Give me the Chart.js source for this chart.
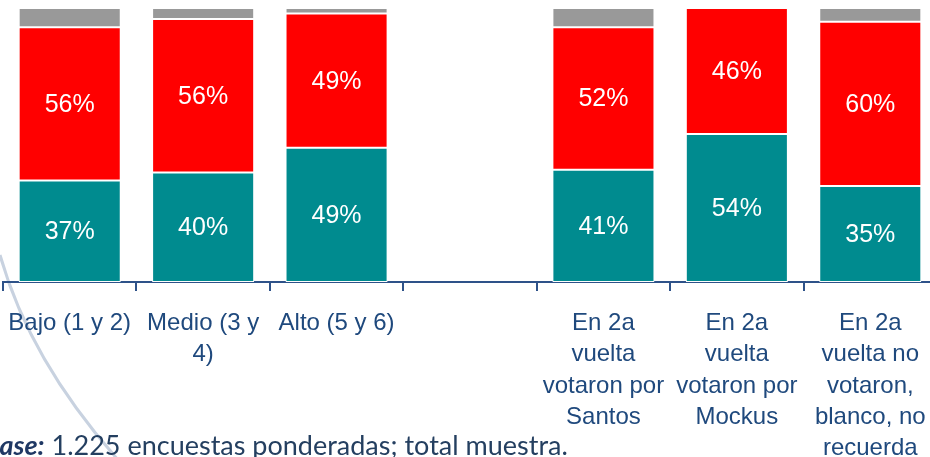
<!DOCTYPE html>
<html>
<head>
<meta charset="utf-8">
<script src="https://cdn.jsdelivr.net/npm/chart.js@4.4.1/dist/chart.umd.min.js"></script>
<style>
  html, body { margin: 0; padding: 0; background: #fff; overflow: hidden; }
  #wrap { position: relative; width: 930px; height: 457px; overflow: hidden; }
  #arc { position: absolute; left: 0; top: 0; }
  #box { position: absolute; left: 0; top: 0; width: 940px; height: 457px; }
  #foot {
    position: absolute; top: 431px; left: -17px; white-space: nowrap;
    font-family: Lato, "Open Sans", sans-serif; font-size: 27px; line-height: 27px;
    color: #243f60;
  }
  #foot b { font-style: italic; color: #1f3864; }
</style>
</head>
<body>
<div id="wrap">
  <svg id="arc" width="930" height="457">
    <path d="M0 255 Q30 361.5 120 462" fill="none" stroke="#c8d2e0" stroke-width="3"/>
  </svg>
  <div id="box"><canvas id="myChart" width="940" height="457"></canvas></div>
  <div id="foot"><b>Base:</b> 1.225 encuestas ponderadas; total muestra.</div>
</div>
<script>
const categories = [
  'Bajo (1 y 2)',
  ['Medio (3 y', '4)'],
  'Alto (5 y 6)',
  '',
  ['En 2a', 'vuelta', 'votaron por', 'Santos'],
  ['En 2a', 'vuelta', 'votaron por', 'Mockus'],
  ['En 2a', 'vuelta no', 'votaron,', 'blanco, no', 'recuerda']
];
const tealValues = [37, 40, 49, null, 41, 54, 35];
const redValues = [56, 56, 49, null, 52, 46, 60];
const grayValues = [7, 4, 2, null, 7, 0, 5];

const fontFam = 'Arial, "Liberation Sans", sans-serif';

// white % labels in the middle of the teal and red pieces
const segLabels = {
  id: 'segLabels',
  afterDatasetsDraw(chart) {
    const ctx = chart.ctx;
    ctx.save();
    ctx.fillStyle = '#ffffff';
    ctx.font = '25px ' + fontFam;
    ctx.textAlign = 'center';
    ctx.textBaseline = 'middle';
    [0, 1].forEach(function (d) {
      const meta = chart.getDatasetMeta(d);
      const vals = chart.data.datasets[d].data;
      meta.data.forEach(function (bar, i) {
        if (vals[i] === null || !vals[i]) return;
        ctx.fillText(vals[i] + '%', bar.x, (bar.y + bar.base) / 2 + 1);
      });
    });
    ctx.restore();
  }
};

const common = { borderColor: '#ffffff', borderWidth: 1, borderSkipped: false, barPercentage: 0.765, categoryPercentage: 1 };

new Chart(document.getElementById('myChart').getContext('2d'), {
  type: 'bar',
  data: {
    labels: categories,
    datasets: [
      Object.assign({ label: 'teal', data: tealValues, backgroundColor: '#008b8f' }, common),
      Object.assign({ label: 'red', data: redValues, backgroundColor: '#ff0000' }, common),
      Object.assign({ label: 'gray', data: grayValues, backgroundColor: '#999999' }, common)
    ]
  },
  options: {
    responsive: false,
    animation: false,
    layout: { padding: { left: 3, right: 3, top: 8, bottom: 0 } },
    plugins: {
      legend: { display: false },
      tooltip: { enabled: false }
    },
    scales: {
      x: {
        stacked: true,
        afterFit: function (scale) {
          scale.height = 175;
          scale.paddingLeft = 0;
          scale.paddingRight = 0;
        },
        border: { display: true, color: '#2e5289', width: 2 },
        grid: { display: true, drawOnChartArea: false, drawTicks: true, tickLength: 9, color: '#2e5289', lineWidth: 2, offset: true },
        ticks: {
          color: '#1f497d',
          padding: 17,
          autoSkip: false,
          maxRotation: 0,
          font: { family: fontFam, size: 24, lineHeight: 1.3 }
        }
      },
      y: {
        stacked: true,
        display: false,
        min: 0,
        max: 100
      }
    }
  },
  plugins: [segLabels]
});
</script>
</body>
</html>
